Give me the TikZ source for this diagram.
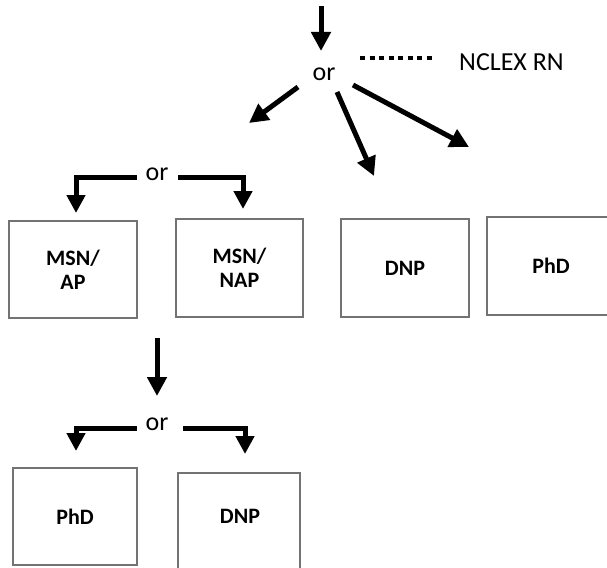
\documentclass[tikz,border=0pt]{standalone}
\usepackage{fontspec}
\setmainfont{Carlito}
\usetikzlibrary{arrows.meta}
\begin{document}
\begin{tikzpicture}[x=1pt,y=-1pt,
  boxnode/.style={draw=black!55, line width=1.5pt, inner sep=0pt, align=center,
    font=\bfseries\fontsize{22}{24}\selectfont},
  ortext/.style={inner sep=1pt, font=\fontsize{26}{30}\selectfont},
  bigarrow/.style={line width=5pt, -{Triangle[length=19pt,width=19pt]}},
  elbow/.style={line width=5pt, -{Triangle[length=18pt,width=18pt]}}]
\useasboundingbox (0,0) rectangle (607,567);
\clip (0,0) rectangle (607,567);

% text nodes
\node[ortext] (or1) at (324,74) {or};
\node[ortext, anchor=west] (nclex) at (458,62) {NCLEX RN};
\node[ortext] (or2) at (157,174) {or};
\node[ortext] (or3) at (157,424) {or};

% boxes
\node[boxnode, minimum width=128pt, minimum height=97pt] (msnap) at (73,269.5) {MSN/\\AP};
\node[boxnode, minimum width=127pt, minimum height=98pt] (msnnap) at (239.5,268) {MSN/\\NAP};
\node[boxnode, minimum width=128pt, minimum height=98pt] (dnp1) at (405,268) {DNP};
\node[boxnode, minimum width=128pt, minimum height=98pt] (phd1) at (551,266) {PhD};
\node[boxnode, minimum width=124pt, minimum height=97pt] (phd2) at (75,516.5) {PhD};
\node[boxnode, minimum width=122pt, minimum height=110pt, anchor=north] (dnp2) at (239,472) {};
\node[font=\bfseries\fontsize{22}{24}\selectfont] (dnp2t) at (240,516) {DNP};

% free ends
\coordinate (top) at (321,6);
\coordinate (topend) at (321,51);
\coordinate (dotA) at (360,58);
\coordinate (dotB) at (434,58);
\coordinate (t1) at (249,123);
\coordinate (s1) at (298,87);
\coordinate (s2) at (337,92);
\coordinate (t2) at (374,176);
\coordinate (s3) at (353,85);
\coordinate (t3) at (469,147);
\coordinate (mid) at (157,338);
\coordinate (midend) at (157,396);

% connectors
\draw[bigarrow] (top) -- (topend);
\draw[line width=4pt, dash pattern=on 5pt off 4.5pt] (dotA) -- (dotB);
\draw[bigarrow] (s1) -- (t1);
\draw[bigarrow] (s2) -- (t2);
\draw[bigarrow] (s3) -- (t3);

\draw[elbow] (137,177) -| (76,213);
\draw[elbow] (178,177) -| (243,209);
\draw[bigarrow] (mid) -- (midend);
\draw[elbow] (137,428) -| (76,451);
\draw[elbow] (183,428) -| (245,454);
\end{tikzpicture}
\end{document}
